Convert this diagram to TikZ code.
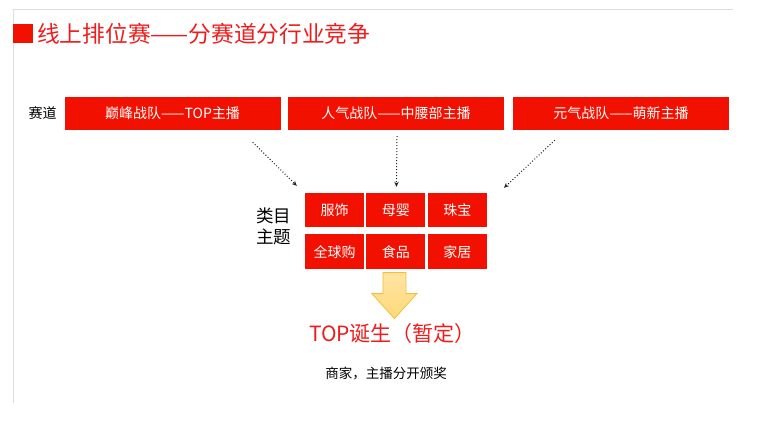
\documentclass[tikz,border=0pt]{standalone}
\usepackage{fontspec}
\setmainfont{Noto Sans CJK SC}
\usepackage{tikz}
\usetikzlibrary{arrows.meta,positioning}
\definecolor{boxred}{HTML}{F21100}
\definecolor{titlered}{HTML}{EE1C1C}
\definecolor{frame}{HTML}{DCDCDC}
\definecolor{arrfill}{HTML}{FFD97A}
\definecolor{arrline}{HTML}{F2BE3C}
\definecolor{dk}{HTML}{222222}
\tikzset{
  trackbox/.style={
    rectangle, fill=boxred, draw=none, text=white,
    minimum width=216pt, minimum height=33pt,
    font=\fontsize{14pt}{16pt}\selectfont, inner sep=0pt
  },
  catbox/.style={
    rectangle, fill=boxred, draw=none, text=white,
    minimum width=59pt, minimum height=34pt,
    font=\fontsize{14pt}{16pt}\selectfont, inner sep=0pt
  },
  dotarrow/.style={
    -{Stealth[length=5pt,width=4.5pt]}, dotted, line width=1pt, color=dk
  },
  plainlabel/.style={
    font=\fontsize{#1}{#1}\selectfont, inner sep=0pt, align=center
  },
  plainlabel/.default=14pt,
}

\begin{document}
\begin{tikzpicture}[x=1pt,y=1pt]
\useasboundingbox (0,0) rectangle (759,-424);

% page frame
\draw[frame, line width=1pt] (733,-9) -- (13,-9) -- (13,-403);

% heading
\node[rectangle, fill=boxred, minimum width=20pt, minimum height=19pt, inner sep=0pt] (mark) at (23,-33.5) {};
\node[plainlabel=22.7pt, text=titlered, anchor=west] (title) at (37,-34) {线上排位赛——分赛道分行业竞争};

% tracks
\node[plainlabel] (tracklbl) at (42.5,-113) {赛道};
\node[trackbox] (trackA) at (172.5,-113.5) {巅峰战队——TOP主播};
\node[trackbox] (trackB) at (396,-113.5) {人气战队——中腰部主播};
\node[trackbox] (trackC) at (621,-113.5) {元气战队——萌新主播};

% category grid
\node[catbox] (cfashion) at (334.5,-210) {服饰};
\node[catbox, right=2pt of cfashion] (cbaby) {母婴};
\node[catbox, right=2pt of cbaby] (cjewel) {珠宝};
\node[catbox, below=7pt of cfashion, minimum height=35pt] (cglobal) {全球购};
\node[catbox, right=2pt of cglobal, minimum height=35pt] (cfood) {食品};
\node[catbox, right=2pt of cfood, minimum height=35pt] (chome) {家居};
\node[plainlabel=17.5pt, font=\fontsize{17.5pt}{21pt}\selectfont] (catlbl) at (273.5,-226.5) {类目\\主题};

% tracks into grid
\draw[dotarrow] ([shift={(-28pt,-12pt)}]trackA.south east) -- ([shift={(-8pt,7pt)}]cfashion.north west);
\draw[dotarrow] ([shift={(1pt,-6pt)}]trackB.south) -- ([shift={(0.5pt,6pt)}]cbaby.north);
\draw[dotarrow] ([shift={(42pt,-10pt)}]trackC.south west) -- ([shift={(17pt,5pt)}]cjewel.north east);

% result
\coordinate (arrtop) at ([shift={(-1.5pt,-3pt)}]cfood.south);
\draw[arrline, top color=arrfill!70, bottom color=arrfill, line width=0.8pt]
  (arrtop) ++(-11.5,0) -- ++(0,-21) -- ++(-11,0) -- ++(22.5,-25)
  -- ++(22.5,25) -- ++(-11,0) -- ++(0,21) -- cycle;
\node[plainlabel=21pt, text=titlered] (born) at (392.5,-334) {TOP诞生（暂定）};
\node[plainlabel=13.5pt, text=black] (note) at (386,-373) {商家，主播分开颁奖};

\end{tikzpicture}
\end{document}
